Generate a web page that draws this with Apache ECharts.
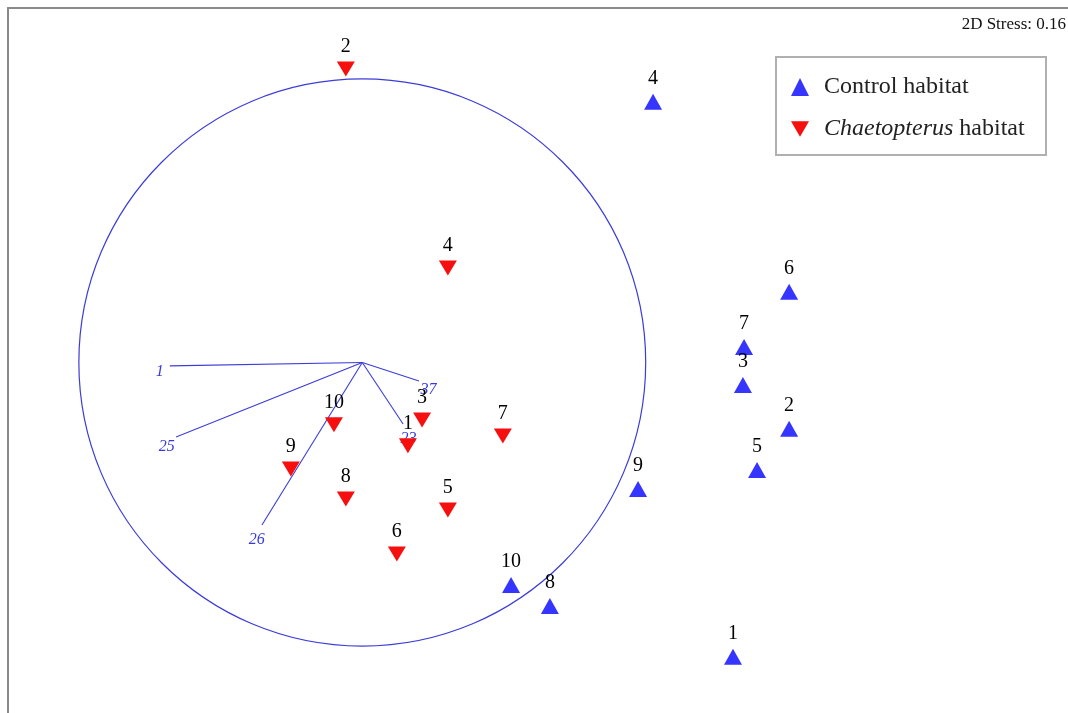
<!DOCTYPE html>
<html>
<head>
<meta charset="utf-8">
<title>nMDS ordination</title>
<script src="https://cdn.jsdelivr.net/npm/echarts@6/dist/echarts.min.js"></script>
<style>
  html, body { margin: 0; padding: 0; background: #ffffff; }
  #chart { width: 1068px; height: 713px; }
</style>
</head>
<body>
<div id="chart"></div>
<script>
// Site scores on the two nMDS axes
const controlIds = ['1', '2', '3', '4', '5', '6', '7', '8', '9', '10'];
const controlX = [1.308, 1.506, 1.343, 1.026, 1.393, 1.506, 1.347, 0.662, 0.973, 0.525];
const controlY = [-1.038, -0.234, -0.079, 0.919, -0.379, 0.249, 0.055, -0.859, -0.446, -0.785];

const chaetIds = ['1', '2', '3', '4', '5', '6', '7', '8', '9', '10'];
const chaetX = [0.161, -0.058, 0.211, 0.302, 0.302, 0.122, 0.496, -0.058, -0.252, -0.100];
const chaetY = [-0.294, 1.035, -0.203, 0.333, -0.520, -0.675, -0.259, -0.481, -0.376, -0.220];

// Species correlation vectors (unit circle = correlation of 1)
const vectorNames = ['1', '25', '26', '23', '37'];
const vectorX = [-0.679, -0.657, -0.354, 0.144, 0.200];
const vectorY = [-0.012, -0.263, -0.573, -0.217, -0.065];

const stressText = '2D Stress: 0.16';
const legendNames = ['Control habitat', 'Chaetopterus habitat'];

const SERIF = '"Liberation Serif", "Times New Roman", "DejaVu Serif", serif';
const BLUE = '#3535ff';
const RED = '#f50f0f';
const LINE_BLUE = '#3c3cd8';
const DOWN_TRI = 'path://M0,0L20,0L10,17Z';

const controlData = controlIds.map((id, i) => [controlX[i], controlY[i], id]);
const chaetData = chaetIds.map((id, i) => [chaetX[i], chaetY[i], id]);
const vectorData = vectorNames.map((n, i) => [vectorX[i], vectorY[i], n]);

const pointLabel = {
  show: true,
  position: 'top',
  distance: 5,
  formatter: p => p.data[2],
  color: '#000',
  fontFamily: SERIF,
  fontSize: 20
};

const chart = echarts.init(document.getElementById('chart'), null, { renderer: 'canvas' });

chart.setOption({
  animation: false,
  backgroundColor: '#ffffff',
  title: {
    text: stressText,
    right: 2,
    top: 16,
    padding: 0,
    textStyle: { fontFamily: SERIF, fontSize: 17, fontWeight: 'normal', color: '#111' }
  },
  grid: { left: 8, top: 8, right: 0, bottom: 0, containLabel: false },
  xAxis: {
    type: 'value',
    position: 'top',
    min: -1.25,
    max: 2.49,
    axisLine: { show: true, onZero: false, lineStyle: { color: '#8a8a8a', width: 2 } },
    axisTick: { show: false },
    axisLabel: { show: false },
    splitLine: { show: false }
  },
  yAxis: {
    type: 'value',
    position: 'left',
    min: -1.236,
    max: 1.25,
    axisLine: { show: true, onZero: false, lineStyle: { color: '#8a8a8a', width: 2 } },
    axisTick: { show: false },
    axisLabel: { show: false },
    splitLine: { show: false }
  },
  legend: {
    orient: 'vertical',
    left: 791,
    top: 75,
    padding: 0,
    itemWidth: 18,
    itemHeight: 18,
    itemGap: 18,
    data: [
      { name: legendNames[0], icon: 'triangle' },
      { name: legendNames[1], icon: DOWN_TRI }
    ],
    formatter: name => name === legendNames[1] ? '{i|Chaetopterus} habitat' : name,
    textStyle: {
      fontFamily: SERIF,
      fontSize: 24,
      color: '#222',
      padding: [0, 0, 0, 10],
      rich: { i: { fontFamily: SERIF, fontSize: 24, fontStyle: 'italic', color: '#222' } }
    }
  },
  graphic: [{
    type: 'rect',
    shape: { x: 776, y: 57, width: 270, height: 98 },
    style: { fill: 'rgba(0,0,0,0)', stroke: '#b0b0b0', lineWidth: 2 },
    z: 1
  }],
  series: [
    {
      // correlation circle
      type: 'custom',
      coordinateSystem: 'cartesian2d',
      silent: true,
      z: 1,
      data: [[0, 0]],
      renderItem: (params, api) => {
        const c = api.coord([0, 0]);
        const r = api.size([1, 1]);
        return {
          type: 'ellipse',
          shape: { cx: c[0], cy: c[1], rx: r[0], ry: r[1] },
          style: { fill: 'none', stroke: LINE_BLUE, lineWidth: 1.2 }
        };
      }
    },
    {
      // species vectors
      type: 'custom',
      coordinateSystem: 'cartesian2d',
      silent: true,
      z: 2,
      data: vectorData,
      renderItem: (params, api) => {
        const o = api.coord([0, 0]);
        const e = api.coord([api.value(0), api.value(1)]);
        const dx = e[0] - o[0], dy = e[1] - o[1];
        const len = Math.sqrt(dx * dx + dy * dy) || 1;
        const tx = e[0] + dx / len * 10;
        const ty = e[1] + dy / len * 10 + 6;
        return {
          type: 'group',
          children: [
            {
              type: 'line',
              shape: { x1: o[0], y1: o[1], x2: e[0], y2: e[1] },
              style: { stroke: LINE_BLUE, lineWidth: 1.1 }
            },
            {
              type: 'text',
              x: tx,
              y: ty,
              style: {
                text: vectorData[params.dataIndex][2],
                fill: '#3a3ad8',
                font: 'italic 16px ' + SERIF,
                align: 'center',
                verticalAlign: 'middle'
              }
            }
          ]
        };
      }
    },
    {
      name: legendNames[0],
      type: 'scatter',
      z: 3,
      symbol: 'triangle',
      symbolSize: [18, 16],
      itemStyle: { color: BLUE, opacity: 1 },
      label: pointLabel,
      data: controlData
    },
    {
      name: legendNames[1],
      type: 'scatter',
      z: 3,
      symbol: DOWN_TRI,
      symbolSize: [18, 15],
      itemStyle: { color: RED, opacity: 1 },
      label: pointLabel,
      data: chaetData
    }
  ]
});
</script>
</body>
</html>
